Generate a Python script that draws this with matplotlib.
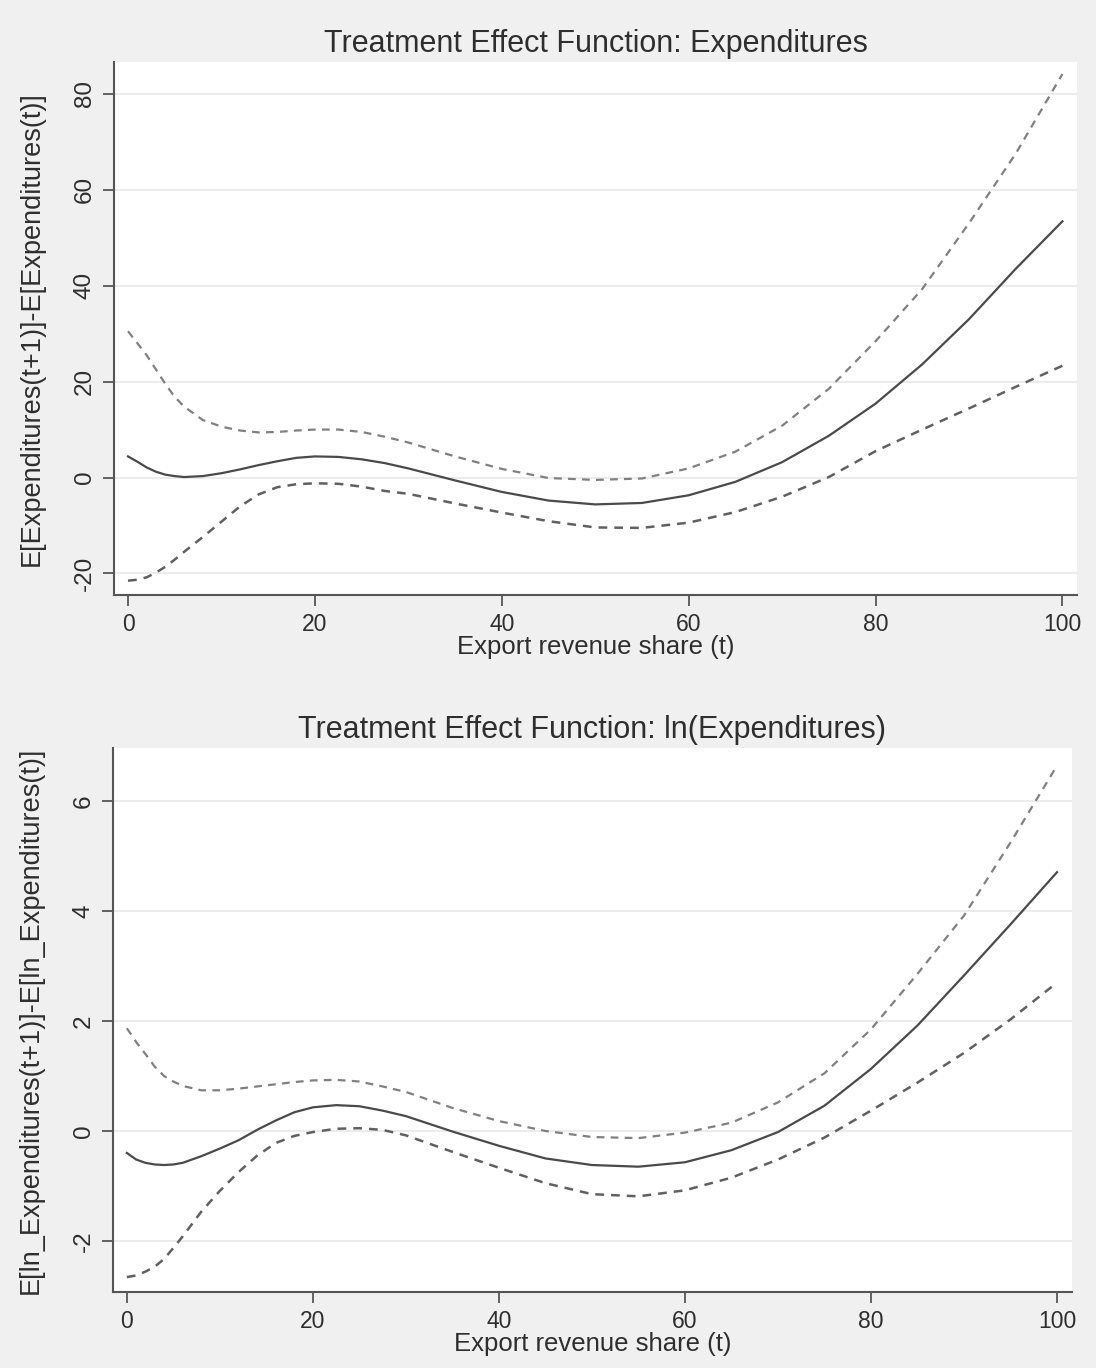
import matplotlib
matplotlib.use("Agg")
import matplotlib.pyplot as plt

BG = "#f0f0f0"
TEXT = "#2e2e2e"
SPINE = "#555555"
GRID = "#ececec"

plt.rcParams.update({
    "font.family": ["Liberation Sans", "DejaVu Sans"],
    "text.color": TEXT,
    "axes.labelcolor": TEXT,
    "xtick.color": SPINE,
    "ytick.color": SPINE,
    "xtick.labelcolor": TEXT,
    "ytick.labelcolor": TEXT,
})

# export revenue share grid (same for both panels)
share = [0, 1, 2, 3, 4, 5, 6, 8, 10, 12, 14, 16, 18, 20, 22.5, 25, 27.5, 30,
         35, 40, 45, 50, 55, 60, 65, 70, 75, 80, 85, 90, 95, 100]

# top panel: expenditures
exp_est = [4.4, 3.3, 2.1, 1.2, 0.6, 0.3, 0.1, 0.3, 0.9, 1.7, 2.6, 3.4, 4.1, 4.4,
           4.3, 3.8, 3.0, 1.9, -0.6, -3.0, -4.8, -5.6, -5.3, -3.7, -0.9, 3.2,
           8.7, 15.4, 23.6, 33.0, 43.5, 53.4]
exp_hi = [30.5, 28.0, 25.5, 22.5, 19.5, 16.8, 14.8, 12.0, 10.6, 9.8, 9.4, 9.5,
          9.8, 10.0, 10.0, 9.5, 8.5, 7.3, 4.4, 1.8, -0.1, -0.5, -0.2, 1.9, 5.4,
          10.8, 18.5, 28.4, 39.3, 53.0, 67.5, 84.1]
exp_lo = [-21.5, -21.3, -20.8, -19.8, -18.6, -17.1, -15.5, -12.4, -9.2, -6.0,
          -3.5, -2.0, -1.4, -1.2, -1.3, -1.9, -2.8, -3.4, -5.4, -7.3, -9.1,
          -10.4, -10.5, -9.4, -7.2, -4.0, 0.1, 5.5, 10.0, 14.4, 18.9, 23.3]

# bottom panel: ln(expenditures)
ln_est = [-0.40, -0.52, -0.58, -0.61, -0.62, -0.61, -0.58, -0.46, -0.32, -0.17,
          0.02, 0.19, 0.34, 0.43, 0.47, 0.45, 0.37, 0.27, -0.01, -0.27, -0.50,
          -0.62, -0.65, -0.57, -0.35, -0.02, 0.46, 1.13, 1.92, 2.83, 3.76, 4.71]
ln_hi = [1.87, 1.62, 1.40, 1.17, 1.00, 0.90, 0.82, 0.74, 0.74, 0.77, 0.81, 0.85,
         0.89, 0.92, 0.93, 0.90, 0.81, 0.71, 0.42, 0.18, 0.00, -0.11, -0.13,
         -0.03, 0.15, 0.52, 1.05, 1.85, 2.86, 3.92, 5.25, 6.65]
ln_lo = [-2.66, -2.63, -2.56, -2.47, -2.33, -2.13, -1.92, -1.47, -1.09, -0.75,
         -0.45, -0.22, -0.09, -0.02, 0.04, 0.05, 0.02, -0.08, -0.38, -0.67,
         -0.95, -1.15, -1.19, -1.08, -0.85, -0.52, -0.12, 0.37, 0.88, 1.42,
         2.03, 2.70]

xticks = [0, 20, 40, 60, 80, 100]


def panel(ax, est, hi, lo, title, ylabel, yticks, ylim):
    ax.set_facecolor("white")
    ax.plot(share, hi, color="#808080", lw=1.6, ls=(0, (3.5, 2.8)))
    ax.plot(share, lo, color="#606060", lw=1.8, ls=(0, (3.5, 2.8)))
    ax.plot(share, est, color="#4a4a4a", lw=1.6)
    ax.set_xlim(-1.5, 101.6)
    ax.set_ylim(*ylim)
    ax.set_xticks(xticks)
    ax.set_yticks(yticks)
    ax.set_yticklabels([str(v) for v in yticks], rotation=90, va="center")
    ax.grid(axis="y", color=GRID, lw=1.5)
    ax.set_axisbelow(True)
    for s in ["top", "right"]:
        ax.spines[s].set_visible(False)
    for s in ["left", "bottom"]:
        ax.spines[s].set_color(SPINE)
        ax.spines[s].set_linewidth(1.5)
    ax.tick_params(length=8, width=1.3, pad=5)
    ax.tick_params(axis="x", labelsize=16.5)
    ax.tick_params(axis="y", labelsize=17.5)
    ax.set_title(title, fontsize=22, color=TEXT, pad=7)
    ax.set_xlabel("Export revenue share (t)", fontsize=18.5, labelpad=-1)
    ax.set_ylabel(ylabel, fontsize=19.5, labelpad=21)


fig = plt.figure(figsize=(10.96, 13.68), dpi=100, facecolor=BG)

ax1 = fig.add_axes([0.104, 0.565, 0.879, 0.390])
panel(ax1, exp_est, exp_hi, exp_lo,
      "Treatment Effect Function: Expenditures",
      "E[Expenditures(t+1)]-E[Expenditures(t)]",
      [-20, 0, 20, 40, 60, 80], (-24.5, 86.7))

ax2 = fig.add_axes([0.103, 0.0556, 0.875, 0.3976])
panel(ax2, ln_est, ln_hi, ln_lo,
      "Treatment Effect Function: ln(Expenditures)",
      "E[ln_Expenditures(t+1)]-E[ln_Expenditures(t)]",
      [-2, 0, 2, 4, 6], (-2.93, 6.97))

fig.savefig("out.png", dpi=100, facecolor=BG)
